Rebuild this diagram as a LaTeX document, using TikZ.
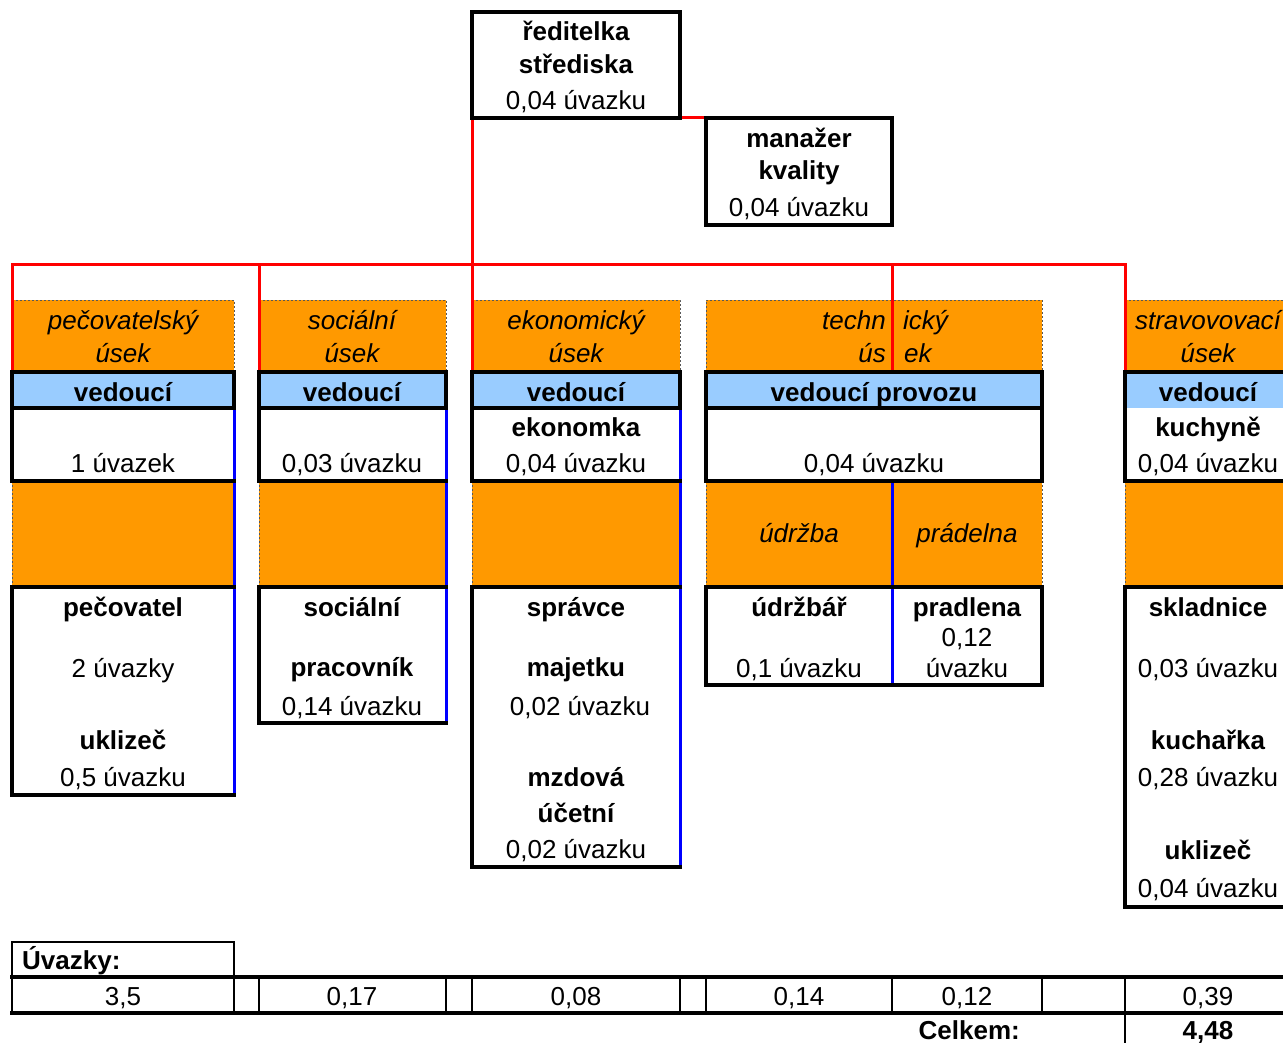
\documentclass[tikz,border=0pt]{standalone}
\usepackage{fontspec}
\setmainfont{Liberation Sans}
\definecolor{orng}{HTML}{FF9900}
\definecolor{lblue}{HTML}{99CCFF}
\definecolor{rline}{HTML}{FF0000}
\definecolor{bline}{HTML}{0000FF}
\newcommand{\fnt}{\fontsize{26}{31}\selectfont}
\tikzset{
  cellbox/.style={anchor=north west, inner sep=0pt, outer sep=0pt, draw=none},
  orfill/.style={cellbox, fill=orng},
  blfill/.style={cellbox, fill=lblue},
  whfill/.style={cellbox, fill=white},
  blk/.style={line width=3.4pt, black, line cap=rect, line join=miter},
  blkthin/.style={line width=1.4pt, black},
  blkmid/.style={line width=2.4pt, black, line cap=rect},
  dsh/.style={line width=0.9pt, black!65, dash pattern=on 2pt off 2pt},
  redl/.style={line width=3pt, rline},
  bluel/.style={line width=3pt, bline},
  lbl/.style={anchor=base, inner sep=0pt, font=\fnt},
  lblb/.style={anchor=base, inner sep=0pt, font=\fnt\bfseries},
  lbli/.style={anchor=base, inner sep=0pt, font=\fnt\itshape},
}
\begin{document}
\begin{tikzpicture}[x=1pt,y=-1pt]
\useasboundingbox (0,0) rectangle (1283,1043);
\clip (0,0) rectangle (1283,1043);
% ---------- top boxes
\node[whfill, minimum width=208pt, minimum height=106pt] (dir) at (472,12) {};
\node[whfill, minimum width=186pt, minimum height=107pt] (mgr) at (706,118) {};
% ---------- column 1
\node[orfill, minimum width=222pt, minimum height=72pt] (h1) at (12,300) {};
\node[blfill, minimum width=222pt, minimum height=36pt] (v1) at (12,372) {};
\node[whfill, minimum width=222pt, minimum height=73pt] (w1) at (12,408) {};
\node[orfill, minimum width=222pt, minimum height=106pt] (o1) at (12,481) {};
\node[whfill, minimum width=222pt, minimum height=208pt] (b1) at (12,587) {};
% ---------- column 2
\node[orfill, minimum width=187pt, minimum height=72pt] (h2) at (259,300) {};
\node[blfill, minimum width=187pt, minimum height=36pt] (v2) at (259,372) {};
\node[whfill, minimum width=187pt, minimum height=73pt] (w2) at (259,408) {};
\node[orfill, minimum width=187pt, minimum height=106pt] (o2) at (259,481) {};
\node[whfill, minimum width=187pt, minimum height=136pt] (b2) at (259,587) {};
% ---------- column 3
\node[orfill, minimum width=208pt, minimum height=72pt] (h3) at (472,300) {};
\node[blfill, minimum width=208pt, minimum height=36pt] (v3) at (472,372) {};
\node[whfill, minimum width=208pt, minimum height=73pt] (w3) at (472,408) {};
\node[orfill, minimum width=208pt, minimum height=106pt] (o3) at (472,481) {};
\node[whfill, minimum width=208pt, minimum height=280pt] (b3) at (472,587) {};
% ---------- column 4
\node[orfill, minimum width=336pt, minimum height=72pt] (h4) at (706,300) {};
\node[blfill, minimum width=336pt, minimum height=36pt] (v4) at (706,372) {};
\node[whfill, minimum width=336pt, minimum height=73pt] (w4) at (706,408) {};
\node[orfill, minimum width=186pt, minimum height=106pt] (o4a) at (706,481) {};
\node[orfill, minimum width=150pt, minimum height=106pt] (o4b) at (892,481) {};
\node[whfill, minimum width=186pt, minimum height=98pt] (b4a) at (706,587) {};
\node[whfill, minimum width=150pt, minimum height=98pt] (b4b) at (892,587) {};
% ---------- column 5
\node[orfill, minimum width=166pt, minimum height=72pt] (h5) at (1125,300) {};
\node[blfill, minimum width=166pt, minimum height=36pt] (v5) at (1125,372) {};
\node[whfill, minimum width=166pt, minimum height=73pt] (w5) at (1125,408) {};
\node[orfill, minimum width=166pt, minimum height=106pt] (o5) at (1125,481) {};
\node[whfill, minimum width=166pt, minimum height=320pt] (b5) at (1125,587) {};
% ---------- bottom table cells
\node[whfill, minimum width=222pt, minimum height=35pt] (uv) at (12,942) {};
\node[whfill, minimum width=222pt, minimum height=36pt] (r1) at (12,977) {};
\node[whfill, minimum width=25pt,  minimum height=36pt] (r2) at (234,977) {};
\node[whfill, minimum width=187pt, minimum height=36pt] (r3) at (259,977) {};
\node[whfill, minimum width=26pt,  minimum height=36pt] (r4) at (446,977) {};
\node[whfill, minimum width=208pt, minimum height=36pt] (r5) at (472,977) {};
\node[whfill, minimum width=26pt,  minimum height=36pt] (r6) at (680,977) {};
\node[whfill, minimum width=186pt, minimum height=36pt] (r7) at (706,977) {};
\node[whfill, minimum width=150pt, minimum height=36pt] (r8) at (892,977) {};
\node[whfill, minimum width=83pt,  minimum height=36pt] (r9) at (1042,977) {};
\node[whfill, minimum width=166pt, minimum height=36pt] (r10) at (1125,977) {};
\node[whfill, minimum width=166pt, minimum height=30pt] (tot) at (1125,1013) {};

% ---------- dashed borders of orange cells
\draw[dsh] (h1.north west) -- (h1.north east) -- (h1.south east);
\draw[dsh] (o1.north west) -- (o1.south west);
\draw[dsh] (h2.north west) -- (h2.north east) -- (h2.south east);
\draw[dsh] (o2.north west) -- (o2.south west);
\draw[dsh] (h3.north west) -- (h3.north east) -- (h3.south east);
\draw[dsh] (o3.north west) -- (o3.south west);
\draw[dsh] (h4.south west) -- (h4.north west) -- (h4.north east) -- (h4.south east);
\draw[dsh] (o4a.north west) -- (o4a.south west);
\draw[dsh] (o4b.north east) -- (o4b.south east);
\draw[dsh] (h5.north west) -- (h5.north east);
\draw[dsh] (o5.north west) -- (o5.south west);

% ---------- red connectors
\coordinate (j1) at (12,265);
\coordinate (j5) at (1125,265);
\draw[redl] (dir.south east) -- (mgr.north west);
\draw[redl] (h1.south west) -- (j1) -- (j5) -- (h5.south west);
\draw[redl] (h2.south west) -- (h2.south west |- j1);
\draw[redl] (dir.south west) -- (h3.south west);
\draw[redl] (o4a.north east |- h4.south) -- (o4a.north east |- j1);

% ---------- blue lines
\draw[bluel] (w1.north east) -- (b1.south east);
\draw[bluel] (w2.north east) -- (b2.south east);
\draw[bluel] (w3.north east) -- (b3.south east);
\draw[bluel] (o4a.north east) -- (b4a.south east);

% ---------- black borders
\draw[blk] (dir.north west) rectangle (dir.south east);
\draw[blk] (mgr.north west) rectangle (mgr.south east);
% column 1
\draw[blk] (v1.north west) rectangle (v1.south east);
\draw[blk] (w1.north west) -- (w1.south west) -- (w1.south east);
\draw[blk] (b1.north east) -- (b1.north west) -- (b1.south west) -- (b1.south east);
% column 2
\draw[blk] (v2.north west) rectangle (v2.south east);
\draw[blk] (w2.north west) -- (w2.south west) -- (w2.south east);
\draw[blk] (b2.north east) -- (b2.north west) -- (b2.south west) -- (b2.south east);
% column 3
\draw[blk] (v3.north west) rectangle (v3.south east);
\draw[blk] (w3.north west) -- (w3.south west) -- (w3.south east);
\draw[blk] (b3.north east) -- (b3.north west) -- (b3.south west) -- (b3.south east);
% column 4
\draw[blk] (v4.north west) rectangle (v4.south east);
\draw[blk] (w4.north west) rectangle (w4.south east);
\draw[blk] (b4a.north west) rectangle (b4b.south east);
% column 5
\draw[blk] (v5.south east) -- (v5.north east) -- (v5.north west) -- (w5.south west) -- (w5.south east) -- (w5.north east) -- cycle;
\draw[blk] (b5.north west) rectangle (b5.south east);

% ---------- bottom table lines
\draw[blkmid] (uv.south west) -- (uv.north west) -- (uv.north east) -- (uv.south east);
\draw[blk] (r1.north west) -- (1283,977);
\draw[blk] (r1.south west) -- (1283,1013);
\foreach \c in {r1,r2,r3,r4,r5,r6,r7,r8,r9,r10}
  \draw[blkthin] (\c.north west) -- (\c.south west);
\draw[blkmid] (r1.north west) -- (r1.south west);
\draw[blkthin] (tot.north west) -- (tot.south west);

% ---------- texts: top
\node[lblb] (t-dir1) at (576,41) {ředitelka};
\node[lblb] (t-dir2) at (576,74) {střediska};
\node[lbl]  (t-dir3) at (576,110) {0,04 úvazku};
\node[lblb] (t-mgr1) at (799,148) {manažer};
\node[lblb] (t-mgr2) at (799,180) {kvality};
\node[lbl]  (t-mgr3) at (799,217) {0,04 úvazku};
% headers
\node[lbli] (t-h1a) at (123,329) {pečovatelský};
\node[lbli] (t-h1b) at (123,362) {úsek};
\node[lbli] (t-h2a) at (352,329) {sociální};
\node[lbli] (t-h2b) at (352,362) {úsek};
\node[lbli] (t-h3a) at (576,329) {ekonomický};
\node[lbli] (t-h3b) at (576,362) {úsek};
\node[lbli, anchor=base east] (t-h4a) at (886,329) {techn};
\node[lbli, anchor=base west] (t-h4b) at (903,329) {ický};
\node[lbli, anchor=base east] (t-h4c) at (886,362) {ús};
\node[lbli, anchor=base west] (t-h4d) at (904,362) {ek};
\node[lbli] (t-h5a) at (1208,329) {stravovovací};
\node[lbli] (t-h5b) at (1208,362) {úsek};
% vedoucí row
\node[lblb] (t-v1) at (123,401) {vedoucí};
\node[lblb] (t-v2) at (352,401) {vedoucí};
\node[lblb] (t-v3) at (576,401) {vedoucí};
\node[lblb] (t-v4) at (874,401) {vedoucí provozu};
\node[lblb] (t-v5) at (1208,401) {vedoucí};
% white row
\node[lbl]  (t-w1) at (123,472) {1 úvazek};
\node[lbl]  (t-w2) at (352,472) {0,03 úvazku};
\node[lblb] (t-w3a) at (576,436) {ekonomka};
\node[lbl]  (t-w3b) at (576,472) {0,04 úvazku};
\node[lbl]  (t-w4) at (874,472) {0,04 úvazku};
\node[lblb] (t-w5a) at (1208,436) {kuchyně};
\node[lbl]  (t-w5b) at (1208,472) {0,04 úvazku};
% orange row
\node[lbli] (t-o4a) at (799,542) {údržba};
\node[lbli] (t-o4b) at (967,542) {prádelna};
% bottom boxes
\node[lblb] (t-b1a) at (123,616) {pečovatel};
\node[lbl]  (t-b1b) at (123,677) {2 úvazky};
\node[lblb] (t-b1c) at (123,749) {uklizeč};
\node[lbl]  (t-b1d) at (123,786) {0,5 úvazku};
\node[lblb] (t-b2a) at (352,616) {sociální};
\node[lblb] (t-b2b) at (352,676) {pracovník};
\node[lbl]  (t-b2c) at (352,715) {0,14 úvazku};
\node[lblb] (t-b3a) at (576,616) {správce};
\node[lblb] (t-b3b) at (576,676) {majetku};
\node[lbl]  (t-b3c) at (580,715) {0,02 úvazku};
\node[lblb] (t-b3d) at (576,786) {mzdová};
\node[lblb] (t-b3e) at (576,822) {účetní};
\node[lbl]  (t-b3f) at (576,858) {0,02 úvazku};
\node[lblb] (t-b4a) at (799,616) {údržbář};
\node[lbl]  (t-b4b) at (799,677) {0,1 úvazku};
\node[lblb] (t-b4c) at (967,616) {pradlena};
\node[lbl]  (t-b4d) at (967,646) {0,12};
\node[lbl]  (t-b4e) at (967,677) {úvazku};
\node[lblb] (t-b5a) at (1208,616) {skladnice};
\node[lbl]  (t-b5b) at (1208,677) {0,03 úvazku};
\node[lblb] (t-b5c) at (1208,749) {kuchařka};
\node[lbl]  (t-b5d) at (1208,786) {0,28 úvazku};
\node[lblb] (t-b5e) at (1208,859) {uklizeč};
\node[lbl]  (t-b5f) at (1208,897) {0,04 úvazku};
% table texts
\node[lblb, anchor=base west] (t-uv) at (22,969) {Úvazky:};
\node[lbl] (t-r1) at (123,1005) {3,5};
\node[lbl] (t-r3) at (352,1005) {0,17};
\node[lbl] (t-r5) at (576,1005) {0,08};
\node[lbl] (t-r7) at (799,1005) {0,14};
\node[lbl] (t-r8) at (967,1005) {0,12};
\node[lbl] (t-r10) at (1208,1005) {0,39};
\node[lblb, anchor=base east] (t-celk) at (1020,1039) {Celkem:};
\node[lblb] (t-tot) at (1208,1039) {4,48};
\end{tikzpicture}
\end{document}
